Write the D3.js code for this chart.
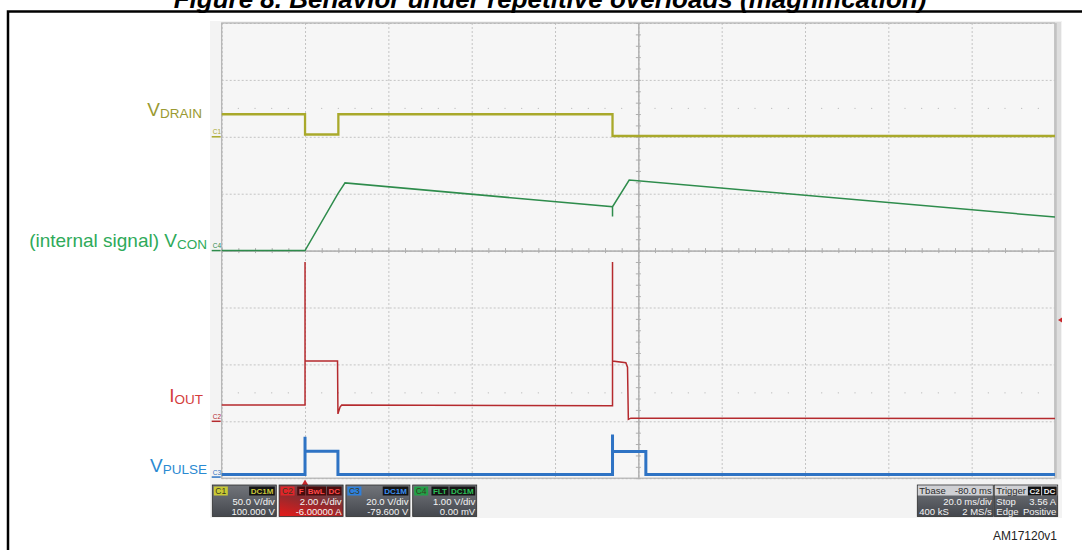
<!DOCTYPE html>
<html>
<head>
<meta charset="utf-8">
<script src="https://cdn.jsdelivr.net/npm/d3@7/dist/d3.min.js"></script>
<style>
  body { margin: 0; background: #fff; }
  svg { display: block; font-family: "Liberation Sans", Arial, sans-serif; }
</style>
</head>
<body>
<div id="chart"></div>
<script>
// scope setup
const channels = ["C1", "C2", "C3", "C4"];
const perDiv = [50, 2, 20, 1];          // V/div (A/div for C2)
const offsets = [100, -6, -79.6, 0];
const chRows = [["50.0 V/div", "100.000 V"], ["2.00 A/div", "-6.00000 A"], ["20.0 V/div", "-79.600 V"], ["1.00 V/div", "0.00 mV"]];
const chBadges = [["DC1M"], ["F", "BwL", "DC"], ["DC1M"], ["FLT", "DC1M"]];
const tbaseText = ["Tbase", "-80.0 ms", "20.0 ms/div", "400 kS", "2 MS/s"];
const trigText = ["Trigger", "Stop", "3.56 A", "Edge", "Positive"];
const trigBadges = ["C2", "DC"];
const trigLevel = 3.56; // A, on C2

// time in ms from the trigger, 20 ms/div
const timeDomain = [-20, 180];
const timeGrid = d3.range(-20, 181, 20);
const timeMinor = d3.range(-20, 180.1, 4);

// C1 - VDRAIN (V)
const drainT = [-20, 0, 0, 8.0, 8.0, 73.8, 73.8, 180];
const drainV = [19.8, 19.8, 2.0, 2.0, 19.8, 19.8, 0.7, 0.7];
// C4 - VCON (V)
const conT = [-20, 0, 7.9, 9.6, 73.8, 73.8, 73.8, 77.8, 180];
const conV = [0, 0, 1.0, 1.19, 0.77, 0.6, 0.77, 1.24, 0.59];
// C2 - IOUT (A)
const outT = [-20, 0, 0, 0, 7.8, 7.9, 8.4, 8.8, 73.8, 73.8, 73.8, 77.0, 77.4, 77.6, 78.2, 180];
const outA = [0.57, 0.57, 5.6, 2.12, 2.12, 0.26, 0.5, 0.57, 0.55, 5.6, 2.12, 2.06, 1.9, 0.07, 0.11, 0.1];
// C3 - VPULSE (V)
const pulseT = [-20, 0, 0, 0, 7.9, 7.9, 73.8, 73.8, 73.8, 81.8, 81.8, 180];
const pulseV = [0.9, 0.9, 14.2, 9.1, 9.1, 0.9, 0.9, 15.0, 9.0, 9.0, 0.9, 0.9];

const labelMain = ["V", "(internal signal) V", "I", "V"];
const labelSub = ["DRAIN", "CON", "OUT", "PULSE"];

const chColor = ["#a9a92b", "#b52a2e", "#2e73c4", "#2e8c4c"];
const chTag = ["#c9c934", "#e0252a", "#2f80dc", "#22a048"];
const chBadgeText = ["#c8c83a", "#ff4a4a", "#3b8ef0", "#2dc05a"];

const margin = { top: 23, left: 221.7 };
const width = 833.3, height = 455.2;

const svg = d3.select("#chart").append("svg")
  .attr("width", 1082)
  .attr("height", 550);

const defs = svg.append("defs");
const gGray = defs.append("linearGradient").attr("id", "boxGray")
  .attr("x1", 0).attr("y1", 0).attr("x2", 0).attr("y2", 1);
gGray.append("stop").attr("offset", 0).attr("stop-color", "#72757b");
gGray.append("stop").attr("offset", 1).attr("stop-color", "#44474d");
const gRed = defs.append("linearGradient").attr("id", "boxRed")
  .attr("x1", 0.7).attr("y1", 0).attr("x2", 0.2).attr("y2", 1);
gRed.append("stop").attr("offset", 0).attr("stop-color", "#5a5c63");
gRed.append("stop").attr("offset", 0.45).attr("stop-color", "#8a2c30");
gRed.append("stop").attr("offset", 1).attr("stop-color", "#dc1c1c");

// title, cut by the top of the page as in the source figure
svg.append("text")
  .attr("x", 550).attr("y", 8)
  .attr("text-anchor", "middle")
  .attr("font-size", 26).attr("font-weight", "bold").attr("font-style", "italic")
  .text("Figure 8. Behavior under repetitive overloads (magnification)");

svg.append("rect")
  .attr("x", 8).attr("y", 11.5).attr("width", 1200).attr("height", 1000)
  .attr("fill", "none").attr("stroke", "#000").attr("stroke-width", 2.5);

// scope screen
svg.append("rect")
  .attr("x", 210).attr("y", 21).attr("width", 852).attr("height", 497)
  .attr("fill", "#f3f3f3");

const plot = svg.append("g")
  .attr("transform", "translate(" + margin.left + "," + margin.top + ")");

const x = d3.scaleLinear().domain(timeDomain).range([0, width]);
const yDiv = d3.scaleLinear().domain([-4, 4]).range([height, 0]);
const chY = ch => d3.scaleLinear()
  .domain([-4 * perDiv[ch] - offsets[ch], 4 * perDiv[ch] - offsets[ch]])
  .range([height, 0]);

plot.append("rect").attr("width", width).attr("height", height).attr("fill", "#f6f6f6");

// dashed grid
plot.append("g")
  .call(d3.axisBottom(x).tickValues(timeGrid).tickSize(height).tickFormat(""))
  .call(g => g.select(".domain").remove())
  .selectAll("line").attr("stroke", "#c4c4c4").attr("stroke-dasharray", "2,2");
plot.append("g")
  .call(d3.axisRight(yDiv).tickValues(d3.range(-4, 5)).tickSize(width).tickFormat(""))
  .call(g => g.select(".domain").remove())
  .selectAll("line").attr("stroke", "#c4c4c4").attr("stroke-dasharray", "2,2");

// dotted rows
const dotRows = [2.5, -2.5];
dotRows.forEach(r => {
  plot.append("g").selectAll("circle")
    .data(timeMinor.filter(t => (t + 20) % 20 !== 0))
    .join("circle")
    .attr("cx", d => x(d)).attr("cy", yDiv(r)).attr("r", 0.7)
    .attr("fill", "#bcbcbc");
});

// centre cross with minor ticks
const cx = x((timeDomain[0] + timeDomain[1]) / 2);
[d3.axisLeft, d3.axisRight].forEach(ax => {
  plot.append("g").attr("transform", "translate(" + cx + ",0)")
    .call(ax(yDiv).tickValues(d3.range(-4, 4.001, 0.2)).tickSize(2.5).tickSizeOuter(0).tickFormat(""))
    .call(g => g.selectAll("path,line").attr("stroke", "#aeaeae"));
});
[d3.axisTop, d3.axisBottom].forEach(ax => {
  plot.append("g").attr("transform", "translate(0," + yDiv(0) + ")")
    .call(ax(x).tickValues(timeMinor).tickSize(2.5).tickSizeOuter(0).tickFormat(""))
    .call(g => g.selectAll("path,line").attr("stroke", "#aeaeae"));
});

plot.append("rect").attr("width", width).attr("height", height)
  .attr("fill", "none").attr("stroke", "#b2b2b2").attr("stroke-width", 1.2);
plot.append("rect").attr("x", width).attr("y", -1).attr("width", 6).attr("height", height + 2)
  .attr("fill", "#dedede");
plot.append("line").attr("x1", width + 0.5).attr("x2", width + 0.5).attr("y1", 0).attr("y2", height)
  .attr("stroke", "#c2c2c2").attr("stroke-width", 2.5);

// traces
const traces = [
  { ch: 3, data: d3.zip(conT, conV), w: 1.5 },
  { ch: 0, data: d3.zip(drainT, drainV), w: 2.3 },
  { ch: 1, data: d3.zip(outT, outA), w: 1.5 },
  { ch: 2, data: d3.zip(pulseT, pulseV), w: 3 }
];
traces.forEach(tr => {
  const y = chY(tr.ch);
  const line = d3.line().x(d => x(d[0])).y(d => y(d[1]));
  plot.append("path")
    .datum(tr.data)
    .attr("d", line)
    .attr("fill", "none")
    .attr("stroke", chColor[tr.ch])
    .attr("stroke-width", tr.w)
    .attr("stroke-linejoin", "miter");
});

// channel ground markers
channels.forEach((c, i) => {
  const y0 = chY(i)(0);
  plot.append("line").attr("x1", -10).attr("x2", -1).attr("y1", y0).attr("y2", y0)
    .attr("stroke", chColor[i]).attr("stroke-width", 1.5);
  plot.append("text").attr("x", -9).attr("y", y0 - 2.5)
    .attr("font-size", 6.5).attr("fill", chColor[i]).text(c);
});

// trigger markers
plot.append("path")
  .attr("d", d3.symbol(d3.symbolTriangle, 28)())
  .attr("transform", "translate(" + x(0) + "," + (height + 6) + ")")
  .attr("fill", "#c8282c");
const ty = chY(1)(trigLevel);
plot.append("path")
  .attr("d", "M" + (width + 3) + "," + ty + "l4,-2.5v5z")
  .attr("fill", "#c8282c");

// left labels
const labelEnd = [202, 207, 203, 207];
const labelBase = [116, 246.5, 402, 472];
const labelColor = ["#9a9a32", "#2eaa5a", "#d43c3c", "#2a8ad2"];
labelMain.forEach((m, i) => {
  const t = svg.append("text")
    .attr("x", labelEnd[i]).attr("y", labelBase[i])
    .attr("text-anchor", "end")
    .attr("fill", labelColor[i]);
  t.append("tspan").attr("font-size", 19).text(m);
  t.append("tspan").attr("font-size", 13.5).attr("dy", 2).text(labelSub[i]);
});

// status bar
const by = 485, bh = 31.5;
function badge(xr, label, bg, fg) {
  const r = svg.append("rect");
  const t = svg.append("text").attr("x", xr - 1.5).attr("y", by + 9)
    .attr("text-anchor", "end").attr("font-size", 8).attr("font-weight", "bold")
    .attr("fill", fg).text(label);
  const tw = t.node().getComputedTextLength();
  r.attr("x", xr - tw - 3).attr("y", by + 1.5).attr("width", tw + 3).attr("height", 9)
    .attr("fill", bg);
  return xr - tw - 4;
}

channels.forEach((c, i) => {
  const bx = 212.3 + i * 66.8, bw = 64;
  svg.append("rect").attr("x", bx).attr("y", by).attr("width", bw).attr("height", bh)
    .attr("fill", i === 1 ? "url(#boxRed)" : "url(#boxGray)")
    .attr("stroke", "#2e2e2e").attr("stroke-width", 0.8);
  svg.append("rect").attr("x", bx + 1.5).attr("y", by + 1.5).attr("width", 14).attr("height", 9)
    .attr("fill", chTag[i]);
  svg.append("text").attr("x", bx + 3).attr("y", by + 9.3)
    .attr("font-size", 8.5).attr("fill", "#3a3a20").text(c);
  let xr = bx + bw - 1.5;
  chBadges[i].slice().reverse().forEach(b => {
    xr = badge(xr, b, i === 1 ? "#4a0c0c" : "#141414", chBadgeText[i]);
  });
  chRows[i].forEach((r, k) => {
    svg.append("text").attr("x", bx + bw - 1.5).attr("y", by + 19.5 + k * 10)
      .attr("text-anchor", "end").attr("font-size", 9.5).attr("fill", "#f4f4f4").text(r);
  });
});

// timebase and trigger boxes
[[917.3, 76], [994.3, 63.4]].forEach(([bx, bw], j) => {
  svg.append("rect").attr("x", bx).attr("y", by).attr("width", bw).attr("height", bh)
    .attr("fill", "url(#boxGray)").attr("stroke", "#2e2e2e").attr("stroke-width", 0.8);
  svg.append("rect").attr("x", bx + 0.5).attr("y", by + 0.5).attr("width", bw - 1).attr("height", 10)
    .attr("fill", "#cfd0d4");
  const txt = j === 0 ? tbaseText : trigText;
  const left = (s, y) => svg.append("text").attr("x", bx + 2).attr("y", y)
    .attr("font-size", 9.5).attr("fill", "#f4f4f4").text(s);
  const right = (s, y) => svg.append("text").attr("x", bx + bw - 1.5).attr("y", y)
    .attr("text-anchor", "end").attr("font-size", 9.5).attr("fill", "#f4f4f4").text(s);
  left(txt[0], by + 9).attr("fill", "#2a2a2a");
  if (j === 0) {
    right(txt[1], by + 9).attr("fill", "#2a2a2a");
    right(txt[2], by + 20);
    left(txt[3], by + 29.5);
    right(txt[4], by + 29.5);
  } else {
    let xr = bx + bw - 1;
    trigBadges.slice().reverse().forEach(b => { xr = badge(xr, b, "#111", "#f0f0f0"); });
    left(txt[1], by + 20);
    right(txt[2], by + 20);
    left(txt[3], by + 29.5);
    right(txt[4], by + 29.5);
  }
});

svg.append("text")
  .attr("x", 1057).attr("y", 540)
  .attr("text-anchor", "end").attr("font-size", 12).attr("fill", "#222")
  .text("AM17120v1");
</script>
</body>
</html>
